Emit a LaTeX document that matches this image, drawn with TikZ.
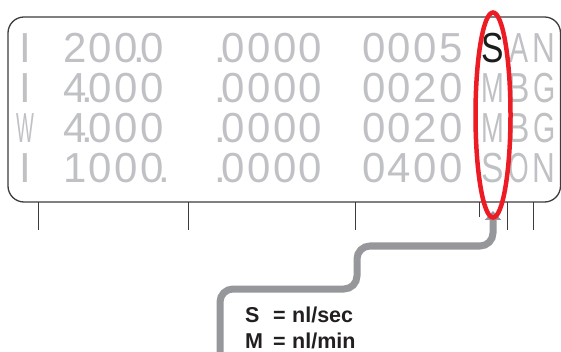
\documentclass[tikz,border=0pt]{standalone}
\usepackage{fontspec}
\setmainfont{Liberation Sans}
\usepackage{graphicx}
\usetikzlibrary{arrows.meta,shapes.geometric}
\definecolor{lcdgray}{RGB}{192,193,197}
\definecolor{lcdblack}{RGB}{28,28,28}
\definecolor{framegray}{RGB}{60,60,60}
\definecolor{pipegray}{RGB}{150,151,155}
\definecolor{markred}{RGB}{237,28,36}
\definecolor{legtext}{RGB}{35,31,32}
\newcommand\lc[2][1]{\makebox[25.7pt]{\scalebox{#1}[1]{#2}}}
\newcommand\ldot{\makebox[0pt]{.}}
\begin{document}
\begin{tikzpicture}[x=1pt,y=-1pt,
  lcd/.style={inner sep=0pt, outer sep=0pt, anchor=base west, text=lcdgray, font=\fontsize{42}{42}\selectfont},
  lcdc/.style={inner sep=0pt, outer sep=0pt, anchor=base, text=lcdgray, font=\fontsize{42}{42}\selectfont},
  frame/.style={draw=framegray, line width=1.3pt},
  tick/.style={draw=framegray, line width=1pt},
  pipe/.style={draw=pipegray, line width=7pt, rounded corners=13pt, -{Triangle[width=16pt,length=9pt]}},
  ring/.style={draw=markred, line width=4.5pt, ellipse, inner sep=0pt, minimum width=35pt, minimum height=205pt},
  legend/.style={inner sep=0pt, anchor=base west, text=legtext, font=\bfseries\fontsize{21.5}{25}\selectfont}]
\useasboundingbox (0,0) rectangle (561,352);
% display frame
\draw[frame, rounded corners=16pt] (8,17) rectangle (560.5,202);
% column 1
\node[lcdc] (r1a) at (25,63) {I};
\node[lcdc] (r2a) at (25,102.5) {I};
\node[lcdc] (r3a) at (25,143) {\scalebox{0.45}[1]{W}};
\node[lcdc] (r4a) at (25,183) {I};
% column 2
\node[lcd] (r1b) at (62,63) {\lc{2}\lc{0}\lc{0}\ldot\lc{0}};
\node[lcd] (r2b) at (62,102.5) {\lc{4}\ldot\lc{0}\lc{0}\lc{0}};
\node[lcd] (r3b) at (62,143) {\lc{4}\ldot\lc{0}\lc{0}\lc{0}};
\node[lcd] (r4b) at (62,183) {\lc{1}\lc{0}\lc{0}\lc{0}\ldot};
% column 3
\node[lcd] (r1c) at (220.5,63) {\ldot\lc{0}\lc{0}\lc{0}\lc{0}};
\node[lcd] (r2c) at (220.5,102.5) {\ldot\lc{0}\lc{0}\lc{0}\lc{0}};
\node[lcd] (r3c) at (220.5,143) {\ldot\lc{0}\lc{0}\lc{0}\lc{0}};
\node[lcd] (r4c) at (220.5,183) {\ldot\lc{0}\lc{0}\lc{0}\lc{0}};
% column 4
\node[lcd] (r1d) at (361,63) {\lc{0}\lc{0}\lc{0}\lc{5}};
\node[lcd] (r2d) at (361,102.5) {\lc{0}\lc{0}\lc{2}\lc{0}};
\node[lcd] (r3d) at (361,143) {\lc{0}\lc{0}\lc{2}\lc{0}};
\node[lcd] (r4d) at (361,183) {\lc{0}\lc{4}\lc{0}\lc{0}};
% unit column
\node[lcd, text=lcdblack] (r1e) at (480,63) {\lc[0.8]{S}};
\node[lcd] (r2e) at (480,102.5) {\lc[0.65]{M}};
\node[lcd] (r3e) at (480,143) {\lc[0.65]{M}};
\node[lcd] (r4e) at (480,183) {\lc[0.8]{S}};
% last two columns
\node[lcd] (r1f) at (505.7,63) {\lc[0.68]{A}\lc[0.75]{N}};
\node[lcd] (r2f) at (505.7,102.5) {\lc[0.8]{B}\lc[0.68]{G}};
\node[lcd] (r3f) at (505.7,143) {\lc[0.8]{B}\lc[0.68]{G}};
\node[lcd] (r4f) at (505.7,183) {\lc[0.63]{O}\lc[0.75]{N}};
% ticks
\coordinate (t1a) at (38,202);  \coordinate (t1b) at (38,230);
\coordinate (t2a) at (188,202); \coordinate (t2b) at (188,230);
\coordinate (t3a) at (355,202); \coordinate (t3b) at (355,230);
\coordinate (t4a) at (479,202); \coordinate (t4b) at (479,217);
\coordinate (t5a) at (507,202); \coordinate (t5b) at (507,230);
\coordinate (t6a) at (533,202); \coordinate (t6b) at (533,230);
\foreach \i in {1,...,6} {\draw[tick] (t\i a) -- (t\i b);}
% pointer
\coordinate (pstart) at (220,362);
\coordinate (pb1) at (220,289);
\coordinate (pb2) at (357,289);
\coordinate (pb3) at (357,246);
\coordinate (pb4) at (493,246);
\coordinate (tip) at (493,211);
\draw[pipe] (pstart) -- (pb1) -- (pb2) -- (pb3) -- (pb4) -- (tip);
% highlight ring
\node[ring] (mark) at (493,115) {};
% legend
\node[legend] (leg1) at (245,322) {\makebox[28pt][l]{S}\makebox[19pt][l]{=}nl/sec};
\node[legend] (leg2) at (245,348) {\makebox[28pt][l]{M}\makebox[19pt][l]{=}nl/min};
\end{tikzpicture}
\end{document}
